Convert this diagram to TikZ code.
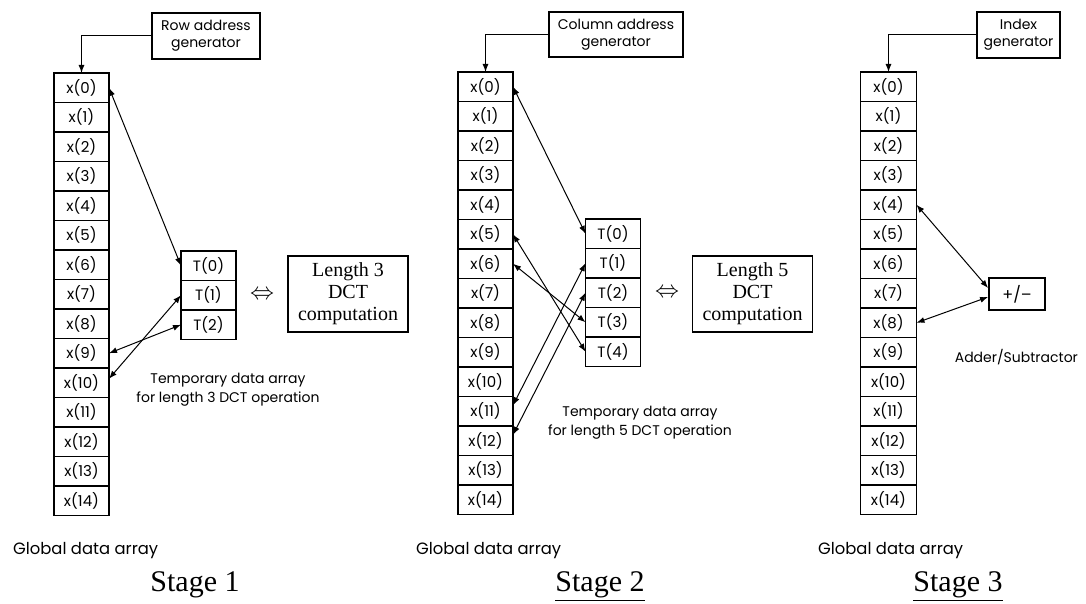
\documentclass[tikz,border=0pt]{standalone}
\usepackage{fontspec}
\setmainfont{Liberation Serif}
\newfontfamily\gothic{Poppins}
\usetikzlibrary{arrows.meta, positioning}

\begin{document}
\begin{tikzpicture}[
    x=0.5pt, y=-0.5pt,
    cell/.style={rectangle, draw, line width=0.9pt, minimum width=27.5pt, minimum height=14.75pt, inner sep=0pt, outer sep=0pt, font=\gothic\fontsize{7.5}{8}\selectfont},
    genbox/.style={rectangle, draw, line width=0.9pt, align=center, inner sep=1pt, font=\gothic\fontsize{7}{8.5}\selectfont},
    dctbox/.style={rectangle, draw, line width=0.9pt, minimum width=60pt, minimum height=38pt, align=center, font=\fontsize{10}{11}\selectfont},
    note/.style={align=center, font=\gothic\fontsize{7}{9.5}\selectfont},
    globlabel/.style={anchor=west, font=\gothic\fontsize{8.2}{9}\selectfont},
    stagelabel/.style={anchor=base, font=\fontsize{15}{16}\selectfont},
    arrow/.style={-{Latex[length=4pt,width=3pt]}, line width=0.5pt},
    link/.style={{Latex[length=4pt,width=3pt]}-{Latex[length=4pt,width=3pt]}, line width=0.5pt}
]
\useasboundingbox (0,0) rectangle (1086,604);

% Stage 1
\node[genbox, minimum width=54pt, minimum height=23pt] (rowgen) at (206,36) {Row address\\generator};
\node[cell] (g1-0) at (81.5,87.75) {x(0)};
\foreach \i [count=\j from 1] in {0,...,13}
    \node[cell, below=0pt of g1-\i] (g1-\j) {x(\j)};
\node[cell] (t1-0) at (208.5,265.75) {T(0)};
\foreach \i [count=\j from 1] in {0,1}
    \node[cell, below=0pt of t1-\i] (t1-\j) {T(\j)};
\node[font=\fontsize{13}{14}\selectfont] (eq1) at (262,295) {$\Leftrightarrow$};
\node[dctbox] (dct1) at (348,294) {Length 3\\DCT\\computation};
\node[note] (tmp1) at (228,390) {Temporary data array\\for length 3 DCT operation};
\node[globlabel] (glob1) at (6,551) {Global data array};
\node[stagelabel] (stage1) at (195,591) {Stage 1};

\draw[arrow] (rowgen.west) -| (g1-0.north);
\draw[link] (g1-0.east) -- (t1-0.west);
\draw[link] (g1-9.east) -- (t1-2.west);
\draw[link] ([yshift=2pt]g1-10.east) -- (t1-1.west);

% Stage 2
\node[genbox, minimum width=67pt, minimum height=22.5pt] (colgen) at (616,34.5) {Column address\\generator};
\node[cell] (g2-0) at (485.5,86.75) {x(0)};
\foreach \i [count=\j from 1] in {0,...,13}
    \node[cell, below=0pt of g2-\i] (g2-\j) {x(\j)};
\node[cell] (t2-0) at (613,233.75) {T(0)};
\foreach \i [count=\j from 1] in {0,...,3}
    \node[cell, below=0pt of t2-\i] (t2-\j) {T(\j)};
\node[font=\fontsize{13}{14}\selectfont] (eq2) at (667,293) {$\Leftrightarrow$};
\node[dctbox] (dct2) at (752.5,294) {Length 5\\DCT\\computation};
\node[note] (tmp2) at (640,423) {Temporary data array\\for length 5 DCT operation};
\node[globlabel] (glob2) at (409,551) {Global data array};
\node[stagelabel] (stage2) at (600,591) {\underline{Stage 2}};

\draw[arrow] (colgen.west) -| (g2-0.north);
\draw[link] (g2-0.east) -- (t2-0.west);
\draw[link] (g2-5.east) -- (t2-4.west);
\draw[link] (g2-6.east) -- (t2-3.west);
\draw[link] ([yshift=3pt]g2-11.east) -- (t2-1.west);
\draw[link] ([yshift=3pt]g2-12.east) -- (t2-2.west);

% Stage 3
\node[genbox, minimum width=41.5pt, minimum height=23pt] (idxgen) at (1018.5,35) {Index\\generator};
\node[cell, minimum width=28pt] (g3-0) at (888.5,86.75) {x(0)};
\foreach \i [count=\j from 1] in {0,...,13}
    \node[cell, minimum width=28pt, below=0pt of g3-\i] (g3-\j) {x(\j)};
\node[genbox, minimum width=28pt, minimum height=16pt, font=\gothic\fontsize{8}{9}\selectfont] (pm) at (1017,294) {+/\textendash};
\node[note, anchor=east] (addsub) at (1085,357) {Adder/Subtractor};
\node[globlabel] (glob3) at (811,551) {Global data array};
\node[stagelabel] (stage3) at (958,591) {\underline{Stage 3}};

\draw[arrow] (idxgen.west) -| (g3-0.north);
\draw[link] (g3-4.east) -- ([yshift=3pt]pm.west);
\draw[link] (g3-8.east) -- ([yshift=-1.5pt]pm.west);

\end{tikzpicture}
\end{document}
